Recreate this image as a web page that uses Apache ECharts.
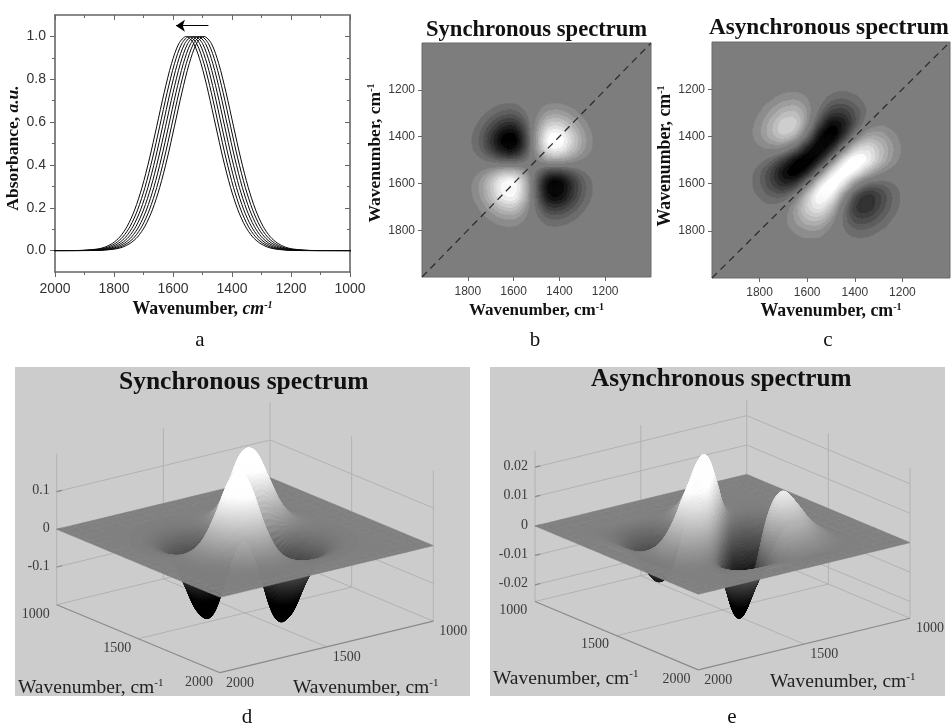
<!DOCTYPE html>
<html>
<head>
<meta charset="utf-8">
<title>2D correlation spectra</title>
<script src="https://cdn.jsdelivr.net/npm/echarts@6/dist/echarts.min.js"></script>
<style>
html,body{margin:0;padding:0;background:#fff;}
#main{width:951px;height:724px;filter:blur(0.7px);}
</style>
</head>
<body>
<div id="main"></div>
<script>
// ---------- panel a: peak positions and the band profile
const peakPositions = [1555, 1545, 1535, 1525, 1515, 1505, 1495];
const profileOffset = [-800,-400,-350,-300,-275,-250,-225,-200,-175,-150,-125,-100,-75,-50,-25,0,25,50,75,100,125,150,175,200,225,250,275,300,350,400,800];
const profileValue  = [0,0.0002,0.0013,0.0076,0.0165,0.034,0.064,0.114,0.19,0.295,0.428,0.581,0.737,0.873,0.967,1,0.967,0.873,0.737,0.581,0.428,0.295,0.19,0.114,0.064,0.034,0.0165,0.0076,0.0013,0.0002,0];
const arrowWave = [1480, 1590];
const arrowLevel = 1.05;
const spectrumXTicks = [2000, 1800, 1600, 1400, 1200, 1000];
const spectrumXMinor = [1900, 1700, 1500, 1300, 1100];
const spectrumYTicks = [0, 0.2, 0.4, 0.6, 0.8, 1];
const spectrumYMinor = [0.1, 0.3, 0.5, 0.7, 0.9];

// ---------- panels b-e: correlation intensity x 1000, rows = y wavenumber, cols = x wavenumber
const waveGrid = [1150,1200,1250,1300,1350,1400,1450,1500,1550,1600,1650,1700,1750,1800,1850,1900];
const syncGrid = [
[0,0,1,2,4,6,6,2,-3,-6,-6,-4,-2,-1,0,0],
[0,1,4,10,21,31,29,10,-15,-31,-29,-19,-9,-3,-1,0],
[1,4,13,37,77,112,105,37,-55,-111,-107,-68,-31,-11,-3,-1],
[2,10,37,104,214,311,292,104,-153,-309,-297,-190,-87,-30,-7,-2],
[4,21,77,214,437,637,597,214,-313,-633,-609,-388,-178,-61,-15,-3],
[6,31,112,311,637,927,870,311,-455,-923,-887,-565,-259,-89,-22,-5],
[6,29,105,292,597,870,815,292,-427,-865,-832,-530,-243,-83,-21,-5],
[2,10,37,104,214,311,292,104,-153,-309,-297,-190,-87,-30,-7,-2],
[-3,-15,-55,-153,-313,-455,-427,-153,224,453,436,278,127,44,11,2],
[-6,-31,-111,-309,-633,-923,-865,-309,453,918,882,562,258,88,22,5],
[-6,-29,-107,-297,-609,-887,-832,-297,436,882,848,541,248,85,21,5],
[-4,-19,-68,-190,-388,-565,-530,-190,278,562,541,345,158,54,14,3],
[-2,-9,-31,-87,-178,-259,-243,-87,127,258,248,158,72,25,6,1],
[-1,-3,-11,-30,-61,-89,-83,-30,44,88,85,54,25,8,2,0],
[0,-1,-3,-7,-15,-22,-21,-7,11,22,21,14,6,2,1,0],
[0,0,-1,-2,-3,-5,-5,-2,2,5,5,3,1,0,0,0]
];
const asyncGrid = [
[0,0,0,0,0,0,0,0,0,0,0,0,0,0,0,0],
[0,0,-4,-17,-47,-89,-114,-88,-11,70,108,94,58,27,10,0],
[0,4,0,-26,-97,-207,-288,-244,-60,154,264,240,151,71,25,0],
[0,17,26,0,-119,-341,-546,-523,-201,225,476,461,300,144,52,0],
[0,47,97,119,0,-332,-733,-852,-484,141,582,633,434,215,80,0],
[0,89,207,341,332,0,-580,-986,-830,-224,340,529,410,217,84,0],
[0,114,288,546,733,580,0,-689,-987,-742,-267,62,147,103,46,0],
[0,88,244,523,852,986,689,0,-692,-995,-856,-523,-237,-82,-22,0],
[0,11,60,201,484,830,987,692,0,-680,-959,-811,-487,-222,-77,0],
[0,-70,-154,-225,-141,224,742,995,680,0,-537,-653,-467,-238,-90,0],
[0,-108,-264,-476,-582,-340,267,856,959,537,0,-280,-275,-160,-66,0],
[0,-94,-240,-461,-633,-529,-62,523,811,653,280,0,-90,-71,-33,0],
[0,-58,-151,-300,-434,-410,-147,237,487,467,275,90,0,-18,-11,0],
[0,-27,-71,-144,-215,-217,-103,82,222,238,160,71,18,0,-2,0],
[0,-10,-25,-52,-80,-84,-46,22,77,90,66,33,11,2,0,0],
[0,0,0,0,0,0,0,0,0,0,0,0,0,0,0,0]
];
const mapTicks = [1800, 1600, 1400, 1200];
const diagonalEnds = [[2000, 2000], [1000, 1000]];
const surfaceWave = [1000,1050,1100,1150,1200,1250,1300,1350,1400,1450,1500,1550,1600,1650,1700,1750,1800,1850,1900,1950,2000];
const floorTicks = [1000, 1500, 2000];
const syncZTicks = [0.1, 0, -0.1];
const asyncZTicks = [0.02, 0.01, 0, -0.01, -0.02];

// ---------- styling / layout constants
const serif = '"Liberation Serif","Times New Roman",serif';
const sans = '"Liberation Sans",Arial,sans-serif';
const axisGray = '#666666';
const mapBackground = 125;
const planeD = {F:[220,597.3], L:[56.7,529.3], R:[433.3,545.7], zPx:377, zMin:-0.2, zMax:0.2, scale:0.2/0.927, norm:0.927,
  px:[15,470], py:[367,696], leftName:[18,688], rightName:[293,688]};
const planeE = {F:[698.3,594.3], L:[535,526], R:[910,542.7], zPx:2940, zMin:-0.0257, zMax:0.0255, scale:0.0248, norm:0.995,
  px:[490,945], py:[367,696], leftName:[493,679], rightName:[770,682]};

// ---------- field sampling for the renderers: smooth lookup between the grid nodes
function gridAt(grid, i, j) {
  return (i < 0 || j < 0 || i >= waveGrid.length || j >= waveGrid.length) ? 0 : grid[j][i] / 1000;
}
function spline(p0, p1, p2, p3, t) {
  return 0.5 * (2*p1 + (p2-p0)*t + (2*p0-5*p1+4*p2-p3)*t*t + (3*p1-p0-3*p2+p3)*t*t*t);
}
function field(grid, x, y) {
  const u = (x - waveGrid[0]) / 50, v = (y - waveGrid[0]) / 50;
  if (u < -1 || v < -1 || u > waveGrid.length || v > waveGrid.length) return 0;
  const i = Math.floor(u), j = Math.floor(v), tx = u - i, ty = v - j, r = [];
  for (let m = -1; m <= 2; m++) {
    r.push(spline(gridAt(grid,i-1,j+m), gridAt(grid,i,j+m), gridAt(grid,i+1,j+m), gridAt(grid,i+2,j+m), tx));
  }
  return spline(r[0], r[1], r[2], r[3], ty);
}
function grayHex(g) {
  const n = Math.max(0, Math.min(255, Math.round(g)));
  return 'rgb(' + n + ',' + n + ',' + n + ')';
}

// ---------- filled contour bands (b, c)
const firstLevel = 0.14, levelStep = 0.105, bandCount = 8;
function bandOf(v) {
  const a = Math.abs(v);
  if (a < firstLevel) return 0;
  const n = Math.floor((a - firstLevel) / levelStep) + 1;
  return v > 0 ? n : -n;
}
function bandColor(n) {
  const f = Math.min(1, Math.abs(n) / bandCount);
  return grayHex(n > 0 ? mapBackground + (255 - mapBackground) * f : mapBackground * (1 - f));
}
function contourRender(grid) {
  const N = 12;
  return function (params, api) {
    const cx = api.value(0), cy = api.value(1), children = [];
    const d = 50 / N;
    for (let r = 0; r < N; r++) {
      const y0 = cy - 25 + r * d, ym = y0 + d / 2;
      let start = 0, cur = bandOf(field(grid, cx - 25 + d / 2, ym));
      for (let c = 1; c <= N; c++) {
        const b = c < N ? bandOf(field(grid, cx - 25 + c * d + d / 2, ym)) : null;
        if (b !== cur) {
          if (cur !== 0) {
            const p0 = api.coord([cx - 25 + start * d, y0]);
            const p1 = api.coord([cx - 25 + c * d, y0 + d]);
            children.push({type:'rect', silent:true,
              shape:{x:Math.min(p0[0],p1[0]), y:Math.min(p0[1],p1[1]),
                     width:Math.abs(p1[0]-p0[0])+0.5, height:Math.abs(p1[1]-p0[1])+0.5},
              style:{fill:bandColor(cur)}});
          }
          start = c; cur = b;
        }
      }
    }
    return {type:'group', children:children};
  };
}
function nodesOf(grid) {
  const out = [];
  waveGrid.forEach(function (y, j) { waveGrid.forEach(function (x, i) { out.push([x, y, grid[j][i]]); }); });
  return out;
}

// ---------- 3D projection and surface (d, e)
function project(cfg, a, b, z) {
  const fa = (2000 - a) / 1000, fb = (2000 - b) / 1000;
  return [cfg.F[0] + fa*(cfg.L[0]-cfg.F[0]) + fb*(cfg.R[0]-cfg.F[0]),
          cfg.F[1] + fa*(cfg.L[1]-cfg.F[1]) + fb*(cfg.R[1]-cfg.F[1]) - z*cfg.zPx];
}
function surfaceColor(cfg, v) {
  const t = Math.max(-1, Math.min(1, v / cfg.norm / 0.78));
  return grayHex(128 + 127 * t);
}
function surfaceRender(cfg, grid) {
  const N = 10;
  return function (params, api) {
    const a = api.value(0), b = api.value(1);
    const a0 = Math.max(1000, a-25), a1 = Math.min(2000, a+25), b0 = Math.max(1000, b-25), b1 = Math.min(2000, b+25);
    const inside = a >= 1150 && a <= 1900 && b >= 1150 && b <= 1900;
    const n = inside ? N : 1, children = [];
    for (let i = 0; i < n; i++) {
      for (let j = 0; j < n; j++) {
        const ax = a0 + (a1-a0)*i/n, ay = a0 + (a1-a0)*(i+1)/n;
        const bx = b0 + (b1-b0)*j/n, by = b0 + (b1-b0)*(j+1)/n;
        const corner = [[ax,bx],[ay,bx],[ay,by],[ax,by]];
        const pts = corner.map(function (c) {
          const p = project(cfg, c[0], c[1], inside ? field(grid, c[0], c[1]) * cfg.scale : 0);
          return api.coord(p);
        });
        const col = surfaceColor(cfg, inside ? field(grid, (ax+ay)/2, (bx+by)/2) : 0);
        children.push({type:'polygon', silent:true, shape:{points:pts},
          style:{fill:col, stroke:col, lineWidth:0.5}});
      }
    }
    return {type:'group', children:children};
  };
}
function surfaceNodes(grid) {
  const out = [];
  surfaceWave.forEach(function (a) {
    surfaceWave.forEach(function (b) {
      const i = waveGrid.indexOf(a), j = waveGrid.indexOf(b);
      out.push([a, b, (i >= 0 && j >= 0) ? grid[j][i] : 0]);
    });
  });
  return out;
}
function boxSegments(cfg, zTicks) {
  const s = [], zA = cfg.zMin, zB = cfg.zMax;
  [[1000,2000],[1000,1500],[1000,1000],[1500,1000],[2000,1000]].forEach(function (c) {
    s.push([c[0],c[1],zA,c[0],c[1],zB,0]);
  });
  zTicks.forEach(function (z) {
    s.push([1000,2000,z,1000,1000,z,0]);
    s.push([1000,1000,z,2000,1000,z,0]);
    s.push([1000,2000,z,1000,1975,z,1]);
  });
  s.push([1000,2000,zA,1000,1000,zA,0]);
  s.push([1000,1000,zA,2000,1000,zA,0]);
  s.push([1500,2000,zA,1500,1000,zA,0]);
  s.push([2000,1500,zA,1000,1500,zA,0]);
  s.push([1000,2000,zA,2000,2000,zA,1]);
  s.push([2000,2000,zA,2000,1000,zA,1]);
  return s;
}
function boxRender(cfg) {
  return function (params, api) {
    const p0 = api.coord(project(cfg, api.value(0), api.value(1), api.value(2)));
    const p1 = api.coord(project(cfg, api.value(3), api.value(4), api.value(5)));
    const strong = api.value(6) === 1;
    return {type:'line', silent:true, shape:{x1:p0[0],y1:p0[1],x2:p1[0],y2:p1[1]},
      style:{stroke: strong ? '#8a8a8a' : '#b2b2b2', lineWidth: strong ? 1.2 : 1}};
  };
}
function labelItems(cfg, zTicks, offsets) {
  const items = [];
  zTicks.forEach(function (z) {
    const p = project(cfg, 1000, 2000, z);
    items.push({x:p[0]-7, y:p[1]-1, text:String(z), align:'right'});
  });
  floorTicks.forEach(function (v) {
    const p = project(cfg, v, 2000, cfg.zMin);
    items.push({x:p[0]+offsets.left[0], y:p[1]+offsets.left[1], text:String(v), align:'center'});
    const q = project(cfg, 2000, 3000 - v, cfg.zMin);
    items.push({x:q[0]+offsets.right[0], y:q[1]+offsets.right[1], text:String(3000 - v), align:'center'});
  });
  items.push({x:cfg.leftName[0], y:cfg.leftName[1], name:true, align:'left'});
  items.push({x:cfg.rightName[0], y:cfg.rightName[1], name:true, align:'left'});
  return items;
}
function labelRender(items) {
  return function (params, api) {
    const it = items[params.dataIndex], p = api.coord([it.x, it.y]);
    if (it.name) {
      return {type:'text', silent:true, style:{x:p[0], y:p[1], text:'{n|Wavenumber, cm}{s|-1}',
        align:'left', verticalAlign:'middle',
        rich:{n:{fontFamily:serif, fontSize:19.5, fill:'#222', color:'#222'},
              s:{fontFamily:serif, fontSize:11, fill:'#222', color:'#222', verticalAlign:'top'}}}};
    }
    return {type:'text', silent:true, style:{x:p[0], y:p[1], text:it.text, align:it.align, verticalAlign:'middle',
      fontFamily:serif, fontSize:14, fill:'#3c3c3c'}};
  };
}

// ---------- axis helpers
function makeRich(size) {
  return {
    b:{fontFamily:serif, fontWeight:'bold', fontSize:size, color:'#111'},
    i:{fontFamily:serif, fontWeight:'bold', fontStyle:'italic', fontSize:size, color:'#111'},
    s:{fontFamily:serif, fontWeight:'bold', fontSize:10, color:'#111', verticalAlign:'top'},
    si:{fontFamily:serif, fontWeight:'bold', fontStyle:'italic', fontSize:10, color:'#111', verticalAlign:'top'}
  };
}
function plainLabel(v) { return String(v); }
function plainAxis(extra) {
  return Object.assign({type:'value', splitLine:{show:false},
    axisLine:{show:true, onZero:false, lineStyle:{color:axisGray, width:1.6}}}, extra);
}
function hiddenAxis(gridIndex, range, inverse) {
  return {type:'value', show:false, gridIndex:gridIndex, min:range[0], max:range[1], inverse:!!inverse, splitLine:{show:false}};
}
function mapXAxis(gridIndex, gap, size) {
  return plainAxis({gridIndex:gridIndex, position:'bottom', inverse:true, min:1000, max:2000,
    axisLine:{show:false, onZero:false},
    axisTick:{show:true, length:4, customValues:mapTicks, lineStyle:{color:axisGray}},
    axisLabel:{show:true, customValues:mapTicks, formatter:plainLabel, fontFamily:sans, fontSize:12, color:'#3a3a3a', margin:9},
    name:'{b|Wavenumber, cm}{s|-1}', nameLocation:'middle', nameGap:gap, nameTextStyle:{rich:makeRich(size)}});
}
function mapYAxis(gridIndex, gap, size, shift) {
  return plainAxis({gridIndex:gridIndex, position:'left', inverse:true, min:1000, max:2000,
    axisLine:{show:false, onZero:false},
    axisTick:{show:true, length:4, customValues:mapTicks, lineStyle:{color:axisGray}},
    axisLabel:{show:true, customValues:mapTicks, formatter:plainLabel, fontFamily:sans, fontSize:12, color:'#3a3a3a', margin:7},
    name:'{b|Wavenumber, cm}{s|-1}', nameLocation:'middle', nameRotate:90, nameGap:gap,
    nameTextStyle:{rich:makeRich(size), padding:[0,0,0,shift]}});
}

// ---------- series
const series = [];
peakPositions.forEach(function (peak) {
  series.push({type:'line', name:'Spectrum ' + peak, xAxisIndex:0, yAxisIndex:0, showSymbol:false, silent:true,
    smooth:0.3, lineStyle:{color:'#0a0a0a', width:1}, z:3,
    data:profileOffset.map(function (d, i) { return [peak + d, profileValue[i]]; })});
});
series[0].markLine = {silent:true, symbol:['none','arrow'], symbolSize:9, animation:false,
  lineStyle:{type:'solid', color:'#000', width:1.1}, label:{show:false},
  data:[[{coord:[arrowWave[0], arrowLevel]},{coord:[arrowWave[1], arrowLevel]}]]};

[[4, syncGrid],[5, asyncGrid]].forEach(function (e) {
  series.push({type:'custom', name: e[1] === syncGrid ? 'Synchronous map' : 'Asynchronous map',
    xAxisIndex:e[0], yAxisIndex:e[0], data:nodesOf(e[1]), encode:{x:0,y:1}, silent:true, clip:true, z:2,
    renderItem:contourRender(e[1])});
  series.push({type:'line', name:'Diagonal', xAxisIndex:e[0], yAxisIndex:e[0], data:diagonalEnds, showSymbol:false, silent:true,
    lineStyle:{color:'#2e2e2e', width:1.3, type:[7,5]}, z:3});
});

[[6, planeD, syncGrid, syncZTicks, {left:[-21,9.5], right:[20,10.5]}],
 [7, planeE, asyncGrid, asyncZTicks, {left:[-21.7,9], right:[20,10]}]].forEach(function (e) {
  const idx = e[0], cfg = e[1], grid = e[2], ticks = e[3], items = labelItems(cfg, ticks, e[4]);
  series.push({type:'custom', name:'Box', xAxisIndex:idx, yAxisIndex:idx, silent:true, z:1,
    data:boxSegments(cfg, ticks), encode:{x:0,y:1}, renderItem:boxRender(cfg)});
  series.push({type:'custom', name:'Surface', xAxisIndex:idx, yAxisIndex:idx, silent:true, z:2,
    data:surfaceNodes(grid), encode:{x:0,y:1}, renderItem:surfaceRender(cfg, grid)});
  series.push({type:'custom', name:'Labels', xAxisIndex:idx, yAxisIndex:idx, silent:true, z:3, clip:true,
    data:items.map(function (it, i) { return [i, i]; }), encode:{x:0,y:1}, renderItem:labelRender(items)});
});

function panelTitle(text, left, top, size) {
  return {text:text, left:left, top:top, padding:0,
    textStyle:{fontFamily:serif, fontWeight:'bold', fontSize:size, color:'#111'}};
}
function caption(text, x, y) {
  return {type:'text', silent:true, x:x, y:y, style:{text:text, fontFamily:serif, fontSize:21, fill:'#111', align:'center', verticalAlign:'middle'}};
}

const option = {
  animation:false,
  backgroundColor:'#ffffff',
  title:[
    panelTitle('Synchronous spectrum', 426, 19, 22.6),
    panelTitle('Asynchronous spectrum', 709, 17, 23.2),
    panelTitle('Synchronous spectrum', 119, 369, 25.5),
    panelTitle('Asynchronous spectrum', 591, 367, 25.2)
  ],
  graphic:[caption('a',200,340), caption('b',535,340), caption('c',828,340), caption('d',247,717), caption('e',732,717)],
  grid:[
    {left:55, top:15, width:295, height:257},
    {left:55, top:15, width:295, height:257},
    {left:422, top:43, width:229, height:234, show:true, backgroundColor:grayHex(mapBackground), borderColor:'#6a6a6a', borderWidth:1},
    {left:712, top:42, width:238, height:236, show:true, backgroundColor:grayHex(mapBackground), borderColor:'#6a6a6a', borderWidth:1},
    {left:planeD.px[0], top:planeD.py[0], width:planeD.px[1]-planeD.px[0], height:planeD.py[1]-planeD.py[0], show:true, backgroundColor:'#cccccc', borderWidth:0},
    {left:planeE.px[0], top:planeE.py[0], width:planeE.px[1]-planeE.px[0], height:planeE.py[1]-planeE.py[0], show:true, backgroundColor:'#cccccc', borderWidth:0}
  ],
  xAxis:[
    plainAxis({gridIndex:0, position:'bottom', inverse:true, min:1000, max:2000,
      axisTick:{show:true, length:5, customValues:spectrumXTicks, lineStyle:{color:axisGray}},
      axisLabel:{show:true, customValues:spectrumXTicks, formatter:plainLabel, fontFamily:sans, fontSize:14, color:'#333', margin:10},
      name:'{b|Wavenumber, }{i|cm}{si|-1}', nameLocation:'middle', nameGap:28, nameTextStyle:{rich:makeRich(17.8)}}),
    plainAxis({gridIndex:0, position:'top', inverse:true, min:1000, max:2000,
      axisTick:{show:true, inside:true, length:5, customValues:spectrumXTicks, lineStyle:{color:axisGray}},
      axisLabel:{show:false}}),
    plainAxis({gridIndex:1, position:'bottom', inverse:true, min:1000, max:2000, axisLine:{show:false, onZero:false},
      axisTick:{show:true, length:3, customValues:spectrumXMinor, lineStyle:{color:axisGray}}, axisLabel:{show:false}}),
    plainAxis({gridIndex:1, position:'top', inverse:true, min:1000, max:2000, axisLine:{show:false, onZero:false},
      axisTick:{show:true, inside:true, length:3, customValues:spectrumXMinor, lineStyle:{color:axisGray}}, axisLabel:{show:false}}),
    mapXAxis(2, 25, 17),
    mapXAxis(3, 24, 17.8),
    hiddenAxis(4, planeD.px),
    hiddenAxis(5, planeE.px)
  ],
  yAxis:[
    plainAxis({gridIndex:0, position:'left', min:-0.1, max:1.1,
      axisTick:{show:true, length:5, customValues:spectrumYTicks, lineStyle:{color:axisGray}},
      axisLabel:{show:true, customValues:spectrumYTicks, fontFamily:sans, fontSize:14, color:'#333', margin:9,
        formatter:function (v) { return v.toFixed(1); }},
      name:'{b|Absorbance, }{i|a.u.}', nameLocation:'middle', nameRotate:90, nameGap:26,
      nameTextStyle:{rich:makeRich(17.5), padding:[0,9,0,0]}}),
    plainAxis({gridIndex:0, position:'right', min:-0.1, max:1.1,
      axisTick:{show:true, inside:true, length:5, customValues:spectrumYTicks, lineStyle:{color:axisGray}},
      axisLabel:{show:false}}),
    plainAxis({gridIndex:1, position:'left', min:-0.1, max:1.1, axisLine:{show:false, onZero:false},
      axisTick:{show:true, length:3, customValues:spectrumYMinor, lineStyle:{color:axisGray}}, axisLabel:{show:false}}),
    plainAxis({gridIndex:1, position:'right', min:-0.1, max:1.1, axisLine:{show:false, onZero:false},
      axisTick:{show:true, inside:true, length:3, customValues:spectrumYMinor, lineStyle:{color:axisGray}}, axisLabel:{show:false}}),
    mapYAxis(2, 28, 17.5, 14),
    mapYAxis(3, 33, 17.8, 8),
    hiddenAxis(4, planeD.py, true),
    hiddenAxis(5, planeE.py, true)
  ],
  series:series
};
const chart = echarts.init(document.getElementById('main'), null, {renderer:'canvas'});
chart.setOption(option);
</script>
</body>
</html>
